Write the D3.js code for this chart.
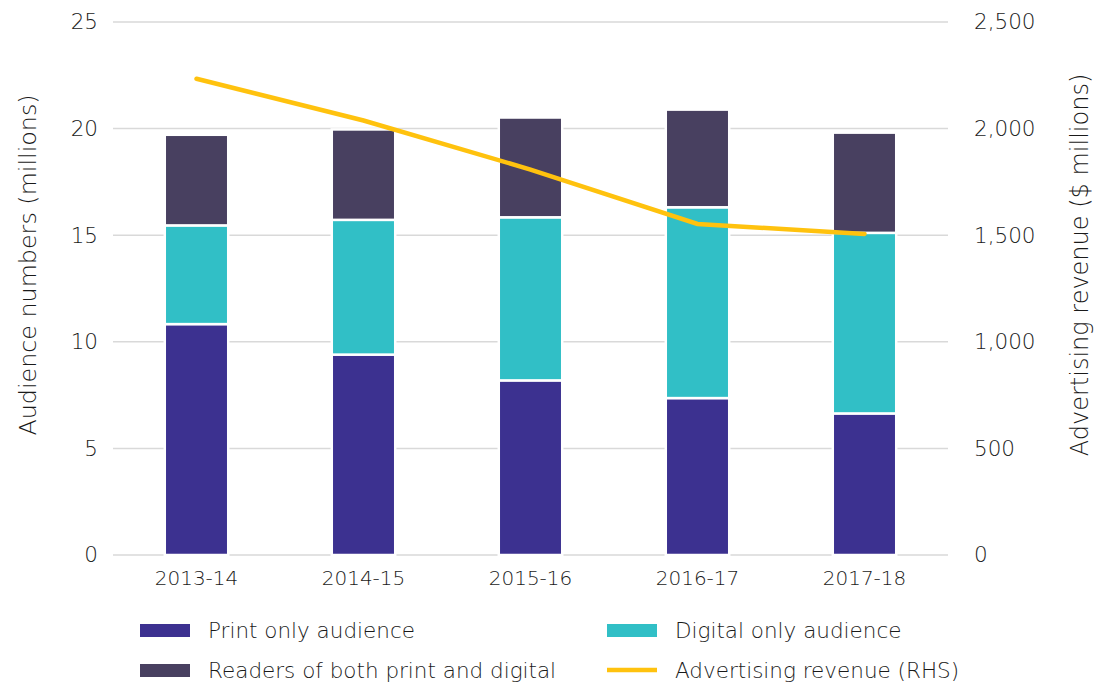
<!DOCTYPE html>
<html>
<head>
<meta charset="utf-8">
<script src="https://cdn.jsdelivr.net/npm/d3@7"></script>
<style>
  body { margin: 0; background: #fff; }
  svg text { font-family: "DejaVu Sans", sans-serif; font-weight: 200; fill: #1a1a1a; }
</style>
</head>
<body>
<div id="chart"></div>
<script>
const years = ['2013-14', '2014-15', '2015-16', '2016-17', '2017-18'];
const printOnly = [10.83, 9.40, 8.19, 7.36, 6.64];
const digitalOnly = [4.63, 6.32, 7.65, 8.95, 8.47];
const bothReaders = [4.25, 4.24, 4.68, 4.58, 4.70];
const adRevenue = [2234, 2038, 1808, 1553, 1506];
const leftTicks = [0, 5, 10, 15, 20, 25];
const rightTicks = [0, 500, 1000, 1500, 2000, 2500];

const WIDTH = 1095, HEIGHT = 683;
const M = { TOP: 22, LEFT: 113, RIGHT: 147, BOTTOM: 128 };
const COLORS = { print: '#3c3190', digital: '#31bfc6', both: '#484060', line: '#ffc20e' };
const innerW = WIDTH - M.LEFT - M.RIGHT;
const innerH = HEIGHT - M.TOP - M.BOTTOM;
const TITLE_Y = 265;

const svg = d3.select('#chart').append('svg')
    .attr('width', WIDTH)
    .attr('height', HEIGHT);
const g = svg.append('g').attr('transform', `translate(${M.LEFT},${M.TOP})`);

const x = d3.scaleBand().domain(years).range([0, innerW]).paddingInner(0.62).paddingOuter(0.31);
const y = d3.scaleLinear().domain([0, 25]).range([innerH, 0]);
const y2 = d3.scaleLinear().domain([0, 2500]).range([innerH, 0]);

// gridlines
g.append('g').selectAll('line')
    .data(leftTicks)
    .enter().append('line')
    .attr('x1', 0).attr('x2', innerW)
    .attr('y1', d => y(d)).attr('y2', d => y(d))
    .style('stroke', '#d9d9d9')
    .style('stroke-width', 1.5);

// left axis
const yAxis = d3.axisLeft(y).tickValues(leftTicks).tickSize(0).tickPadding(15);
g.append('g').call(yAxis)
    .call(a => a.select('.domain').remove())
    .selectAll('text').style('font-size', '21.5px');

// right axis
const yAxis2 = d3.axisRight(y2).tickValues(rightTicks).tickSize(0).tickPadding(26)
    .tickFormat(d3.format(','));
g.append('g').attr('transform', `translate(${innerW},0)`).call(yAxis2)
    .call(a => a.select('.domain').remove())
    .selectAll('text').style('font-size', '21.5px');

// x axis
const xAxis = d3.axisBottom(x).tickSize(0).tickPadding(16);
g.append('g').attr('transform', `translate(0,${innerH})`).call(xAxis)
    .call(a => a.select('.domain').remove())
    .selectAll('text').style('font-size', '20px');

// axis titles
svg.append('text')
    .attr('transform', `translate(36,${TITLE_Y}) rotate(-90)`)
    .style('text-anchor', 'middle')
    .style('font-size', '23.8px')
    .text('Audience numbers (millions)');
svg.append('text')
    .attr('transform', `translate(1088,${TITLE_Y}) rotate(-90)`)
    .style('text-anchor', 'middle')
    .style('font-size', '24px')
    .text('Advertising revenue ($ millions)');

// stacked bars
const rows = years.map((yr, i) => ({ year: yr, print: printOnly[i], digital: digitalOnly[i], both: bothReaders[i] }));
const stack = d3.stack().keys(['print', 'digital', 'both'])(rows);

g.append('g').selectAll('g')
    .data(stack)
    .enter().append('g')
    .style('fill', d => COLORS[d.key])
    .selectAll('rect')
    .data(d => d)
    .enter().append('rect')
    .attr('x', d => x(d.data.year))
    .attr('y', d => y(d[1]))
    .attr('width', x.bandwidth())
    .attr('height', d => y(d[0]) - y(d[1]))
    .style('stroke', '#fff')
    .style('stroke-width', 2.5);

// revenue line
const line = d3.line()
    .x((d, i) => x(years[i]) + x.bandwidth() / 2)
    .y(d => y2(d));
g.append('path')
    .datum(adRevenue)
    .attr('d', line)
    .style('fill', 'none')
    .style('stroke', COLORS.line)
    .style('stroke-width', 4.5)
    .style('stroke-linecap', 'round');

// legend
const legendItems = [
    { label: 'Print only audience', color: COLORS.print, type: 'rect', x: 140, y: 630 },
    { label: 'Digital only audience', color: COLORS.digital, type: 'rect', x: 607, y: 630 },
    { label: 'Readers of both print and digital', color: COLORS.both, type: 'rect', x: 140, y: 670 },
    { label: 'Advertising revenue (RHS)', color: COLORS.line, type: 'line', x: 607, y: 670 }
];
const legend = svg.append('g').attr('id', 'legend');
legendItems.forEach(item => {
    const it = legend.append('g').attr('transform', `translate(${item.x},${item.y})`);
    if (item.type === 'rect') {
        it.append('rect').attr('x', 0).attr('y', -6).attr('width', 50).attr('height', 13).style('fill', item.color);
    } else {
        it.append('line').attr('x1', 0).attr('x2', 50).attr('y1', 0).attr('y2', 0)
            .style('stroke', item.color).style('stroke-width', 4.5);
    }
    it.append('text').attr('x', 68).attr('y', 7.5).style('font-size', '21.5px').text(item.label);
});
</script>
</body>
</html>
